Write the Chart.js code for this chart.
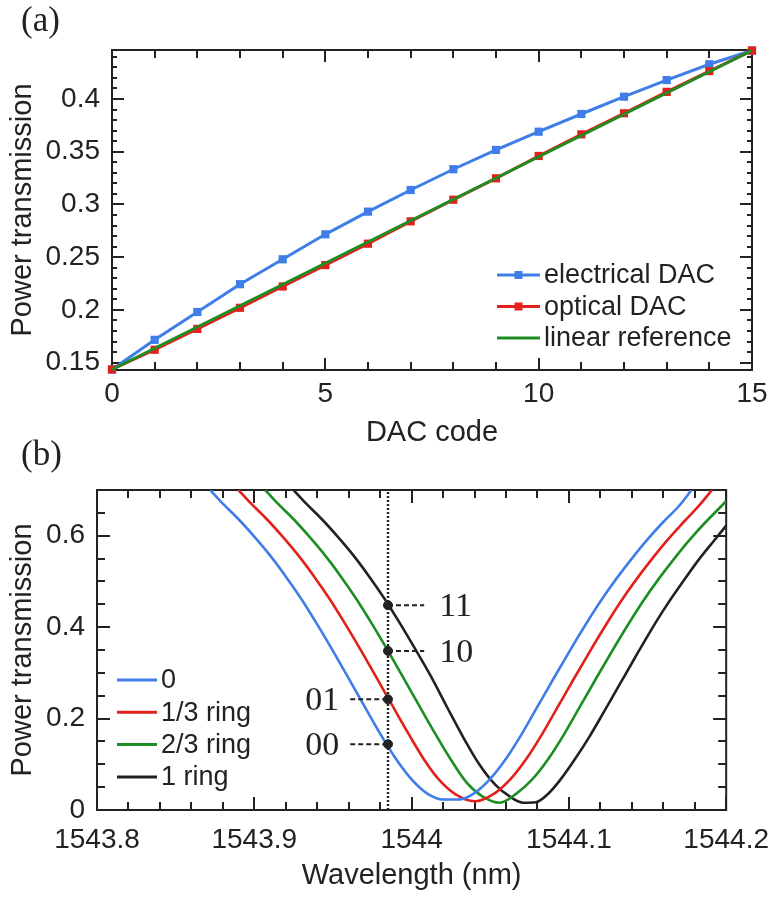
<!DOCTYPE html>
<html>
<head>
<meta charset="utf-8">
<script src="https://cdn.jsdelivr.net/npm/chart.js@4.4.1/dist/chart.umd.min.js"></script>
<style>
  html, body { margin: 0; padding: 0; background: #fff; }
  #wrap { position: relative; width: 782px; height: 897px; overflow: hidden; }
  #chartA { position: absolute; left: 0; top: 0; }
  #chartB { position: absolute; left: 0; top: 440px; }
  .tag { position: absolute; left: 21px; font-family: "Liberation Serif", "Times New Roman", serif; font-size: 35px; color: #222; line-height: 38px; }
</style>
</head>
<body>
<div id="wrap">
  <canvas id="chartA" width="782" height="450"></canvas>
  <canvas id="chartB" width="782" height="457"></canvas>
  <div class="tag" style="top:1px">(a)</div>
  <div class="tag" style="top:435px">(b)</div>
</div>
<script>
// ---- panel (a) data ----
const dacCode = [0, 1, 2, 3, 4, 5, 6, 7, 8, 9, 10, 11, 12, 13, 14, 15];
const electricalDAC = [0.1435, 0.1716, 0.198, 0.2244, 0.248, 0.2717, 0.2932, 0.3137, 0.3334, 0.3517, 0.369, 0.3858, 0.4022, 0.418, 0.433, 0.446];
const opticalDAC = [0.1435, 0.1622, 0.182, 0.202, 0.2222, 0.2425, 0.2628, 0.284, 0.3045, 0.3248, 0.346, 0.3665, 0.3865, 0.4068, 0.4265, 0.446];
const linearCode = [0, 15];
const linearRef = [0.1435, 0.446];
const xTicksA = [0, 5, 10, 15];
const xLabelsA = ['0', '5', '10', '15'];
const yTicksA = [0.15, 0.2, 0.25, 0.3, 0.35, 0.4];
const yLabelsA = ['0.15', '0.2', '0.25', '0.3', '0.35', '0.4'];

// ---- panel (b) data ----
const wlZero = [1543.872, 1543.88, 1543.89, 1543.90, 1543.91, 1543.92, 1543.93, 1543.94, 1543.95, 1543.96, 1543.97, 1543.98, 1543.99, 1544.00, 1544.01, 1544.02, 1544.03, 1544.04, 1544.05, 1544.06, 1544.07, 1544.08, 1544.09, 1544.10, 1544.11, 1544.12, 1544.13, 1544.14, 1544.15, 1544.16, 1544.17, 1544.178];
const tZero = [0.700, 0.670, 0.636, 0.598, 0.557, 0.511, 0.461, 0.406, 0.348, 0.288, 0.227, 0.167, 0.112, 0.067, 0.036, 0.023, 0.023, 0.037, 0.068, 0.112, 0.166, 0.226, 0.286, 0.345, 0.402, 0.456, 0.505, 0.550, 0.592, 0.630, 0.665, 0.700];
const wlThird = [1543.890, 1543.898, 1543.908, 1543.918, 1543.928, 1543.938, 1543.948, 1543.958, 1543.968, 1543.978, 1543.988, 1543.998, 1544.008, 1544.018, 1544.028, 1544.040, 1544.053, 1544.063, 1544.073, 1544.083, 1544.093, 1544.103, 1544.113, 1544.123, 1544.133, 1544.143, 1544.153, 1544.163, 1544.173, 1544.183, 1544.191];
const tThird = [0.700, 0.670, 0.636, 0.598, 0.557, 0.511, 0.461, 0.406, 0.348, 0.288, 0.227, 0.167, 0.110, 0.064, 0.034, 0.019, 0.037, 0.068, 0.112, 0.166, 0.226, 0.286, 0.345, 0.402, 0.456, 0.505, 0.550, 0.592, 0.630, 0.667, 0.700];
const wlTwoThirds = [1543.907, 1543.915, 1543.925, 1543.935, 1543.945, 1543.955, 1543.965, 1543.975, 1543.985, 1543.995, 1544.005, 1544.015, 1544.025, 1544.035, 1544.045, 1544.056, 1544.067, 1544.077, 1544.087, 1544.097, 1544.107, 1544.117, 1544.127, 1544.137, 1544.147, 1544.157, 1544.167, 1544.177, 1544.187, 1544.197, 1544.200];
const tTwoThirds = [0.700, 0.670, 0.636, 0.598, 0.557, 0.511, 0.461, 0.406, 0.348, 0.288, 0.227, 0.167, 0.110, 0.060, 0.030, 0.016, 0.037, 0.068, 0.112, 0.166, 0.226, 0.286, 0.345, 0.402, 0.456, 0.505, 0.550, 0.592, 0.630, 0.665, 0.676];
const wlOne = [1543.925, 1543.933, 1543.943, 1543.953, 1543.963, 1543.973, 1543.983, 1543.993, 1544.003, 1544.013, 1544.023, 1544.033, 1544.043, 1544.053, 1544.063, 1544.071, 1544.079, 1544.087, 1544.095, 1544.104, 1544.113, 1544.122, 1544.132, 1544.142, 1544.152, 1544.162, 1544.172, 1544.182, 1544.192, 1544.200];
const tOne = [0.700, 0.670, 0.636, 0.598, 0.557, 0.511, 0.461, 0.406, 0.348, 0.288, 0.222, 0.158, 0.100, 0.056, 0.028, 0.016, 0.017, 0.036, 0.068, 0.112, 0.160, 0.213, 0.273, 0.333, 0.392, 0.447, 0.497, 0.545, 0.588, 0.622];
const markerWl = 1543.985;
const levelValues = [0.144, 0.242, 0.348, 0.448];
const levelLabels = ['00', '01', '10', '11'];
const levelLeft = [1543.961, 1543.961, markerWl, markerWl];
const levelRight = [markerWl, markerWl, 1544.008, 1544.008];
const xTicksB = [1543.8, 1543.9, 1544.0, 1544.1, 1544.2];
const xLabelsB = ['1543.8', '1543.9', '1544', '1544.1', '1544.2'];
const yTicksB = [0, 0.2, 0.4, 0.6];
const yLabelsB = ['0', '0.2', '0.4', '0.6'];

const BLUE = '#3f7ee8', RED = '#e3211c', GREEN = '#1d8e24', BLACK = '#222';
const SANS = '"Liberation Sans", Arial, Helvetica, sans-serif';
const tickFont = { family: SANS, size: 28 };
const titleFont = { family: SANS, size: 29 };

function steps(from, to, step) {
  const out = [];
  for (let v = from; v <= to + step / 2; v += step) out.push(+v.toFixed(4));
  return out;
}

// frame + inward tick marks on all four sides
const frameTicks = {
  id: 'frameTicks',
  beforeDatasetsDraw(chart, args, o) {
    const { ctx, chartArea: a, scales: { x, y } } = chart;
    ctx.save();
    ctx.strokeStyle = BLACK;
    ctx.lineWidth = 2;
    ctx.beginPath();
    const xt = (v, len) => {
      const p = Math.round(x.getPixelForValue(v));
      ctx.moveTo(p, a.bottom); ctx.lineTo(p, a.bottom - len);
      ctx.moveTo(p, a.top); ctx.lineTo(p, a.top + len);
    };
    const yt = (v, len) => {
      const p = Math.round(y.getPixelForValue(v));
      ctx.moveTo(a.left, p); ctx.lineTo(a.left + len, p);
      ctx.moveTo(a.right, p); ctx.lineTo(a.right - len, p);
    };
    o.xMinor.forEach(v => xt(v, o.xMinorLen));
    o.xMajor.forEach(v => xt(v, o.xMajorLen));
    o.yMinor.forEach(v => yt(v, o.yMinorLen));
    o.yMajor.forEach(v => yt(v, o.yMajorLen));
    ctx.stroke();
    ctx.strokeRect(a.left, a.top, a.right - a.left, a.bottom - a.top);
    ctx.restore();
  }
};

// legend drawn inside the plot box
const boxLegend = {
  id: 'boxLegend',
  afterDraw(chart, args, o) {
    const ctx = chart.ctx;
    const items = chart.data.datasets.filter(d => d.inLegend).sort((p, q) => p.legendRow - q.legendRow);
    ctx.save();
    ctx.font = '27px ' + SANS;
    ctx.textBaseline = 'middle';
    items.forEach((d, i) => {
      const yy = o.y + i * o.step;
      ctx.strokeStyle = d.borderColor;
      ctx.lineWidth = 3;
      ctx.beginPath();
      ctx.moveTo(o.x, yy); ctx.lineTo(o.x + o.len, yy);
      ctx.stroke();
      if (d.pointRadius > 0) {
        ctx.fillStyle = d.borderColor;
        ctx.fillRect(o.x + o.len / 2 - 4, yy - 4, 8, 8);
      }
      ctx.fillStyle = BLACK;
      ctx.fillText(d.label, o.x + o.len + 4, yy + 1);
    });
    ctx.restore();
  }
};

// code labels next to the dashed leaders
const levelText = {
  id: 'levelText',
  afterDraw(chart) {
    const { ctx, scales: { x, y } } = chart;
    ctx.save();
    ctx.font = '34px "Liberation Serif", "Times New Roman", serif';
    ctx.fillStyle = BLACK;
    ctx.textBaseline = 'middle';
    levelLabels.forEach((t, i) => {
      const py = y.getPixelForValue(levelValues[i]) + 2;
      if (levelRight[i] > markerWl) {
        ctx.textAlign = 'left';
        ctx.fillText(t, x.getPixelForValue(levelRight[i]) + 15, py);
      } else {
        ctx.textAlign = 'right';
        ctx.fillText(t, x.getPixelForValue(levelLeft[i]) - 11, py);
      }
    });
    ctx.restore();
  }
};

const pts = (xs, ys) => xs.map((v, i) => ({ x: v, y: ys[i] }));

// ---- chart (a) ----
new Chart(document.getElementById('chartA'), {
  type: 'line',
  data: {
    datasets: [
      { label: 'electrical DAC', data: pts(dacCode, electricalDAC), borderColor: BLUE, backgroundColor: BLUE,
        borderWidth: 3, pointStyle: 'rect', pointRadius: 5.8, pointBorderWidth: 0, clip: false, order: 2, inLegend: true, legendRow: 0 },
      { label: 'optical DAC', data: pts(dacCode, opticalDAC), borderColor: RED, backgroundColor: RED,
        borderWidth: 3, pointStyle: 'rect', pointRadius: 5.8, pointBorderWidth: 0, clip: false, order: 1, inLegend: true, legendRow: 1 },
      { label: 'linear reference', data: pts(linearCode, linearRef), borderColor: GREEN,
        borderWidth: 3, pointRadius: 0, clip: false, order: 0, inLegend: true, legendRow: 2 }
    ]
  },
  options: {
    responsive: false,
    animation: false,
    events: [],
    layout: { padding: { top: 50, right: 30, left: 0, bottom: 0 } },
    plugins: {
      legend: { display: false },
      tooltip: { enabled: false },
      frameTicks: { xMinor: steps(0, 15, 1), xMajor: xTicksA, yMinor: steps(0.15, 0.44, 0.01), yMajor: yTicksA,
                    xMinorLen: 8, xMajorLen: 12, yMinorLen: 5, yMajorLen: 12 },
      boxLegend: { x: 497, y: 275, step: 31.5, len: 43 }
    },
    scales: {
      x: {
        type: 'linear', min: 0, max: 15,
        grid: { display: false, drawTicks: false }, border: { display: false },
        afterBuildTicks: s => { s.ticks = xTicksA.map(v => ({ value: v })); },
        afterFit: s => { s.height = 80; },
        ticks: { font: tickFont, color: BLACK, padding: 7, maxRotation: 0, autoSkip: false, callback: (v, i) => xLabelsA[i] },
        title: { display: true, text: 'DAC code', font: titleFont, color: BLACK, padding: { top: 0, bottom: 0 } }
      },
      y: {
        type: 'linear', min: 0.143, max: 0.4465,
        grid: { display: false, drawTicks: false }, border: { display: false },
        afterBuildTicks: s => { s.ticks = yTicksA.map(v => ({ value: v })); },
        afterFit: s => { s.width = 112; },
        ticks: { font: tickFont, color: BLACK, padding: 12, autoSkip: false, callback: (v, i) => yLabelsA[i] },
        title: { display: true, text: 'Power transmission', font: titleFont, color: BLACK, padding: { top: 6, bottom: 0 } }
      }
    }
  },
  plugins: [frameTicks, boxLegend]
});

// ---- chart (b) ----
const curve = (label, xs, ys, color, row) => ({
  label, data: pts(xs, ys), borderColor: color, backgroundColor: color, borderWidth: 2.6,
  pointRadius: 0, cubicInterpolationMode: 'monotone', inLegend: true, legendRow: row, order: 5 + row
});
const leaders = levelValues.map((v, i) => ({
  label: 'lead' + i, data: [{ x: levelLeft[i], y: v }, { x: levelRight[i], y: v }],
  borderColor: BLACK, borderWidth: 2, borderDash: [5, 3], pointRadius: 0, order: 2
}));

new Chart(document.getElementById('chartB'), {
  type: 'line',
  data: {
    datasets: [
      curve('0', wlZero, tZero, BLUE, 0),
      curve('1/3 ring', wlThird, tThird, RED, 1),
      curve('2/3 ring', wlTwoThirds, tTwoThirds, GREEN, 2),
      curve('1 ring', wlOne, tOne, BLACK, 3),
      { label: 'marker', data: [{ x: markerWl, y: 0 }, { x: markerWl, y: 0.7 }], borderColor: BLACK,
        borderWidth: 2.4, borderDash: [2, 2], pointRadius: 0, order: 3 },
      ...leaders,
      { label: 'levels', type: 'scatter', data: levelValues.map(v => ({ x: markerWl, y: v })),
        backgroundColor: BLACK, borderColor: BLACK, pointRadius: 4.5, order: 0 }
    ]
  },
  options: {
    responsive: false,
    animation: false,
    events: [],
    layout: { padding: { top: 50, right: 45, left: 0, bottom: 0 } },
    plugins: {
      legend: { display: false },
      tooltip: { enabled: false },
      frameTicks: { xMinor: steps(1543.8, 1544.2, 0.02), xMajor: xTicksB, yMinor: steps(0, 0.7, 0.05), yMajor: yTicksB,
                    xMinorLen: 8, xMajorLen: 13, yMinorLen: 8, yMajorLen: 13 },
      boxLegend: { x: 117, y: 240, step: 32.3, len: 40 }
    },
    scales: {
      x: {
        type: 'linear', min: 1543.8, max: 1544.2,
        grid: { display: false, drawTicks: false }, border: { display: false },
        afterBuildTicks: s => { s.ticks = xTicksB.map(v => ({ value: v })); },
        afterFit: s => { s.height = 87; },
        ticks: { font: tickFont, color: BLACK, padding: 13, maxRotation: 0, autoSkip: false, callback: (v, i) => xLabelsB[i] },
        title: { display: true, text: 'Wavelength (nm)', font: titleFont, color: BLACK, padding: { top: 0, bottom: 4 } }
      },
      y: {
        type: 'linear', min: 0, max: 0.7,
        grid: { display: false, drawTicks: false }, border: { display: false },
        afterBuildTicks: s => { s.ticks = yTicksB.map(v => ({ value: v })); },
        afterFit: s => { s.width = 97; },
        ticks: { font: tickFont, color: BLACK, padding: 12, autoSkip: false, callback: (v, i) => yLabelsB[i] },
        title: { display: true, text: 'Power transmission', font: titleFont, color: BLACK, padding: { top: 6, bottom: 0 } }
      }
    }
  },
  plugins: [frameTicks, boxLegend, levelText]
});
</script>
</body>
</html>
